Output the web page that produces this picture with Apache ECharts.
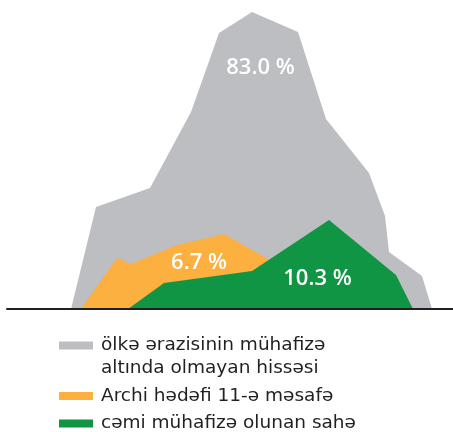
<!DOCTYPE html>
<html>
<head>
    <meta charset="utf-8" />
    <title></title>
    <script src="https://cdn.jsdelivr.net/npm/echarts@6/dist/echarts.min.js"></script>
    <style>
        html, body { margin: 0; padding: 0; background: #fff; }
    </style>
</head>
<body>
<div id="main" style="width: 453px; height: 432px"></div>
<script type="text/javascript">
    // series names (legend)
    var names = [
        'ölkə ərazisinin mühafizə\naltında olmayan hissəsi',
        'Archi hədəfi 11-ə məsafə',
        'cəmi mühafizə olunan sahə'
    ];
    // profiles: [x, height]
    var greyProfile = [[64, 0], [89, 102], [143, 121], [184, 197], [212, 276], [245, 297],
        [291, 277], [319, 190], [362, 136], [378, 93], [382, 57], [415, 33], [425, 0]];
    var orangeProfile = [[74, 0], [110, 51], [124, 45], [170, 64], [217, 75], [261, 50], [353, 0]];
    var greenProfile = [[121, 0], [157, 26], [245, 38], [322, 89], [389, 34], [406, 0]];
    // share labels and where they sit
    var shares = ['83.0 %', '6.7 %', '10.3 %'];
    var shareAt = [[253.5, 241.5], [192, 46.5], [310.5, 30.5]];

    var colors = ['#bdbec1', '#fbb040', '#109545'];
    var profiles = [greyProfile, orangeProfile, greenProfile];

    var myChart = echarts.init(document.getElementById('main'));

    var series = [];
    for (var i = 0; i < 3; i++) {
        series.push({
            name: names[i],
            type: 'line',
            data: profiles[i],
            symbol: 'none',
            smooth: false,
            silent: true,
            itemStyle: { color: colors[i] },
            lineStyle: { width: 0, color: colors[i] },
            areaStyle: { color: colors[i], opacity: 1 },
            markPoint: {
                symbol: 'circle',
                symbolSize: 0,
                silent: true,
                data: [{ coord: shareAt[i], value: shares[i] }],
                label: {
                    show: true,
                    position: 'inside',
                    formatter: '{c}',
                    color: '#fff',
                    fontFamily: 'Open Sans',
                    fontWeight: 600,
                    fontSize: 22
                }
            }
        });
    }

    myChart.setOption({
        animation: false,
        grid: { left: 7, right: 0, top: 9, bottom: 123 },
        xAxis: {
            type: 'value',
            min: 0,
            max: 446,
            z: 10,
            axisLine: { show: true, onZero: false, lineStyle: { color: '#231f20', width: 2 } },
            axisTick: { show: false },
            axisLabel: { show: false },
            splitLine: { show: false }
        },
        yAxis: {
            type: 'value',
            min: 0,
            max: 300,
            show: false
        },
        legend: {
            orient: 'vertical',
            left: 59,
            top: 311,
            padding: 0,
            itemWidth: 34,
            itemHeight: 8,
            itemGap: 4.5,
            icon: 'rect',
            selectedMode: false,
            // two-line name: empty line on top keeps the swatch on the first line
            formatter: function (name) {
                return name.indexOf('\n') >= 0 ? ' \n' + name : name;
            },
            textStyle: {
                fontFamily: 'DejaVu Sans',
                fontSize: 18.5,
                lineHeight: 23,
                color: '#231f20',
                padding: [0, 0, 0, 3]
            },
            data: names
        },
        series: series
    });
</script>
</body>
</html>
